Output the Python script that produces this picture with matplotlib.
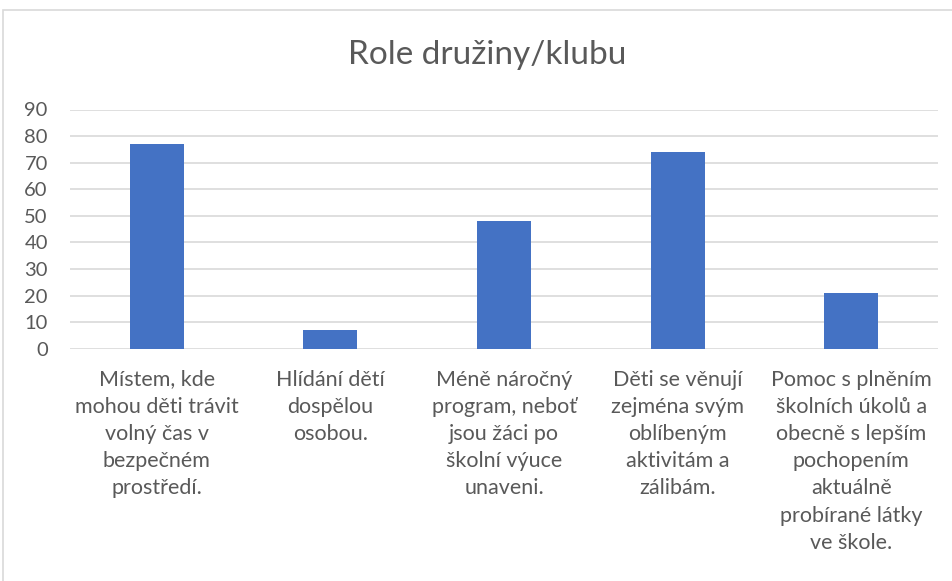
import matplotlib.pyplot as plt
from matplotlib.patches import Rectangle

# data
categories = [
    "Místem, kde\nmohou děti trávit\nvolný čas v\nbezpečném\nprostředí.",
    "Hlídání dětí\ndospělou\nosobou.",
    "Méně náročný\nprogram, neboť\njsou žáci po\nškolní výuce\nunaveni.",
    "Děti se věnují\nzejména svým\noblíbeným\naktivitám a\nzálibám.",
    "Pomoc s plněním\nškolních úkolů a\nobecně s lepším\npochopením\naktuálně\nprobírané látky\nve škole.",
]
values = [77, 7, 48, 74, 21]
yticks = [0, 10, 20, 30, 40, 50, 60, 70, 80, 90]

text_color = "#595959"
plt.rcParams['font.family'] = ['Lato', 'DejaVu Sans']

fig = plt.figure(figsize=(9.53, 5.81), dpi=100)
ax = fig.add_axes([70 / 953, 232.3 / 581, 868 / 953, 239.2 / 581])

x = list(range(len(values)))
ax.bar(x, values, width=0.31, color="#4472C4", zorder=3)

ax.set_xlim(-0.5, len(values) - 0.5)
ax.set_ylim(0, 90)
ax.set_yticks(yticks)
ax.set_xticks(x)
ax.set_xticklabels(categories, fontsize=15.5, color=text_color,
                   linespacing=1.45, va="top")
ax.tick_params(axis="x", length=0, pad=15)
ax.tick_params(axis="y", length=0, pad=16, labelsize=14.5, labelcolor=text_color)
ax.grid(axis="y", color="#D9D9D9", linewidth=1.2, zorder=0)
for side in ["top", "right", "left", "bottom"]:
    ax.spines[side].set_visible(False)

fig.text(487 / 953, 1 - 55 / 581, "Role družiny/klubu", ha="center",
         va="center", fontsize=24, color=text_color)

# outer chart border
fig.patches.append(Rectangle((3 / 953, 0 - 0.01), 1.0, 1 - 10 / 581 + 0.01,
                             transform=fig.transFigure, fill=False,
                             edgecolor="#D9D9D9", linewidth=1.2))

fig.savefig("out.png", dpi=100)
